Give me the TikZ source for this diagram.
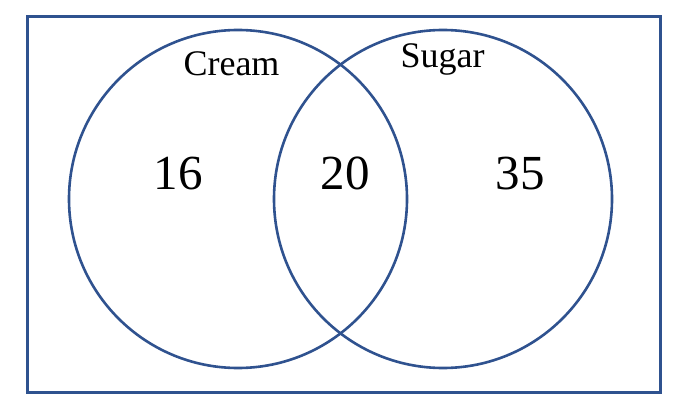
\documentclass[tikz,border=0pt]{standalone}
\usepackage{fontspec}
\setmainfont{Liberation Serif}
\usepackage{xcolor}
\usepackage{tikz}
\usetikzlibrary{positioning}
\definecolor{vennblue}{RGB}{47,82,143}

\begin{document}
\begin{tikzpicture}
  [
    x=1pt,y=-1pt,
    universe/.style={rectangle,draw=vennblue,line width=3pt,inner sep=0pt,minimum width=632.5pt,minimum height=375.5pt},
    set/.style={circle,draw=vennblue,line width=2.6pt,inner sep=0pt,minimum size=338pt},
    setlabel/.style={font=\fontsize{36}{36}\selectfont,anchor=base,inner sep=0pt},
    setcount/.style={font=\fontsize{49}{49}\selectfont,anchor=base,inner sep=0pt}
  ]
  \useasboundingbox (0,0) rectangle (688,412);
  \node[universe] (all) at (343.75,204.25) {};
  \node[set] (cream) at (238,199) {};
  \node[set] (sugar) at (443,199) {};
  % set names
  \node[setlabel] (cream label) at (231.5,76) {Cream};
  \node[setlabel] (sugar label) at (442.5,67) {Sugar};
  % counts
  \node[setcount] (only cream) at (178,189) {16};
  \node[setcount] (both) at (345,189) {20};
  \node[setcount] (only sugar) at (520,189) {35};
\end{tikzpicture}
\end{document}
